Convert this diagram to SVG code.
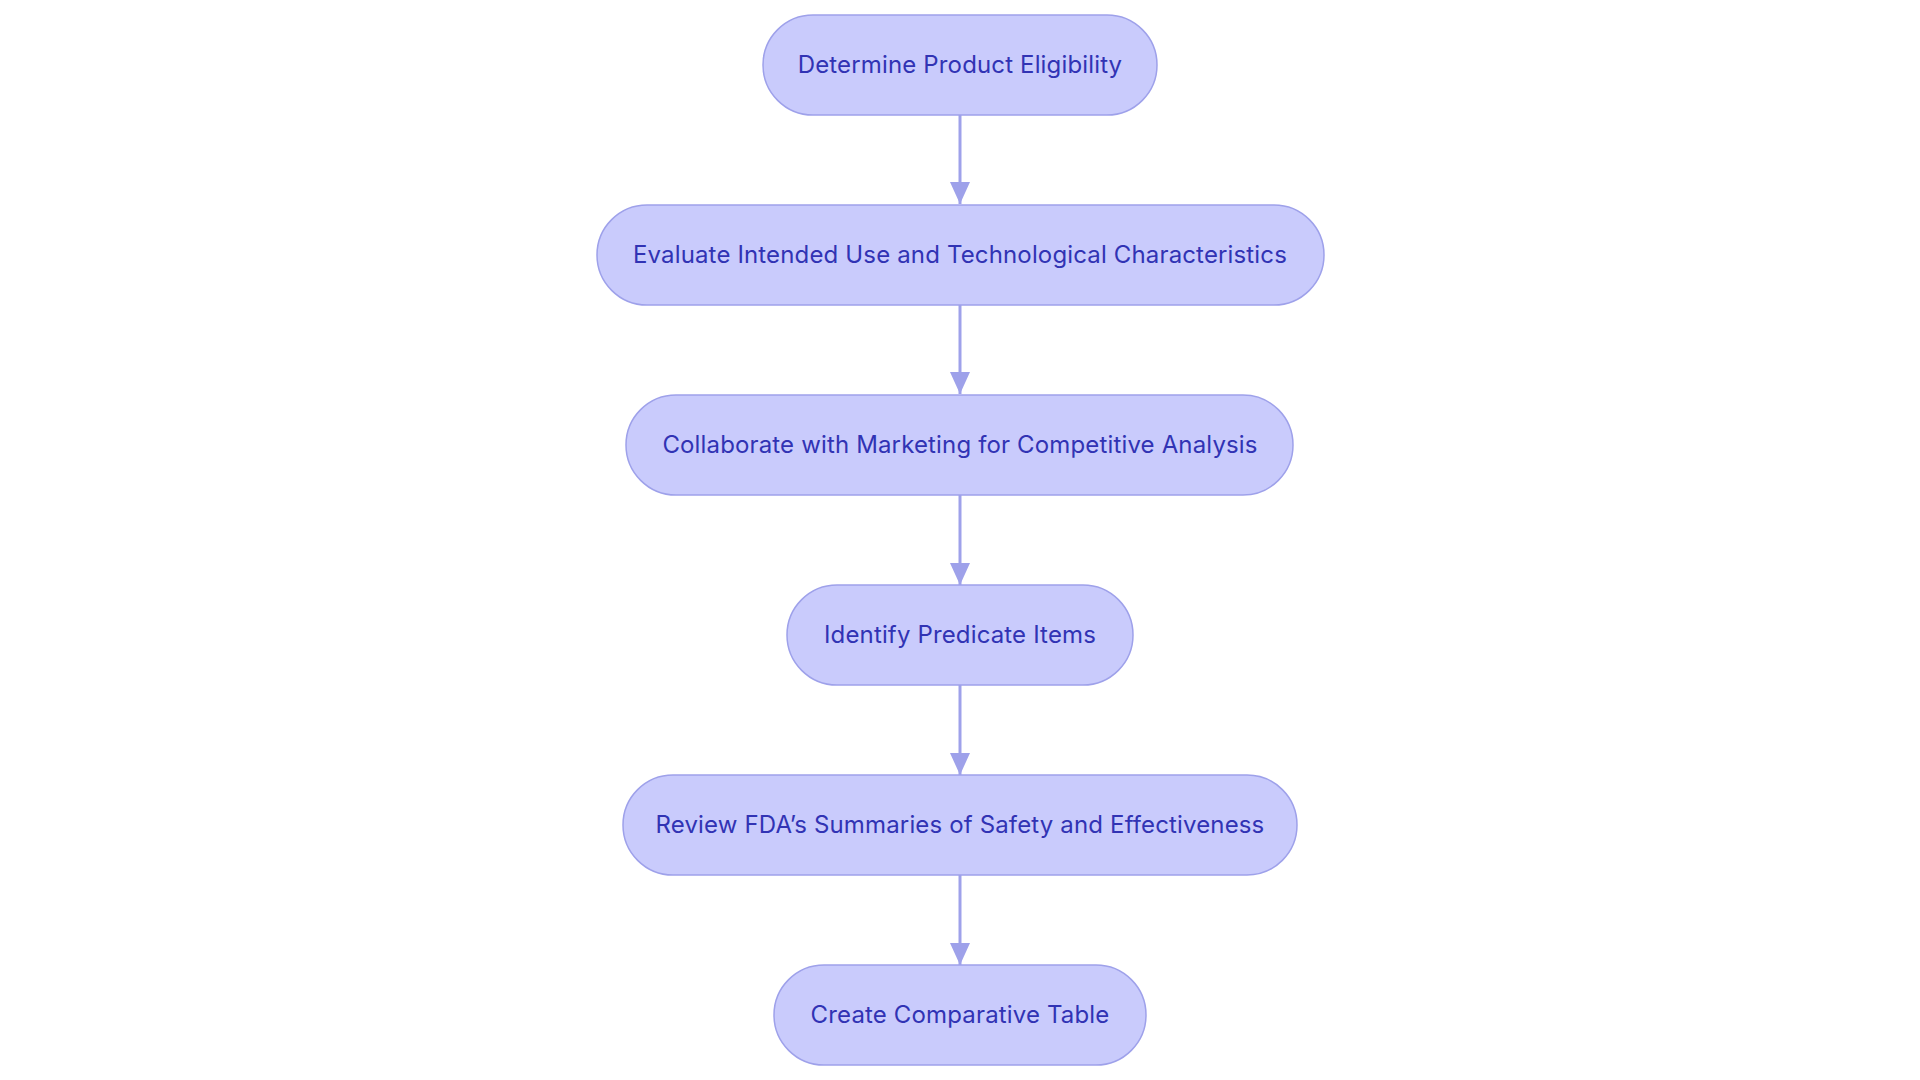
<svg xmlns="http://www.w3.org/2000/svg" width="1920" height="1080" viewBox="0 0 1920 1080">
<style>
.node rect{fill:#c9cbfc;stroke:#9ea1ea;stroke-width:1.5}
.node text{font-family:Inter,"Noto Sans",sans-serif;font-size:24px;font-weight:400;letter-spacing:0.15px;fill:#3133b4;text-anchor:middle;dominant-baseline:central}
.edge{stroke:#9ea1ea;stroke-width:3;fill:none}
</style>
<defs>
<marker id="ah" viewBox="0 0 22 20" refX="22" refY="10" markerWidth="22" markerHeight="20" markerUnits="userSpaceOnUse" orient="auto">
<path d="M0,0 L22,10 L0,20 Z" fill="#9ea1ea"/>
</marker>
</defs>
<rect width="1920" height="1080" fill="#ffffff"/>
<g id="connectors">
<line class="edge" x1="960" y1="115" x2="960" y2="204" marker-end="url(#ah)"/>
<line class="edge" x1="960" y1="305" x2="960" y2="394" marker-end="url(#ah)"/>
<line class="edge" x1="960" y1="495" x2="960" y2="585" marker-end="url(#ah)"/>
<line class="edge" x1="960" y1="685" x2="960" y2="775" marker-end="url(#ah)"/>
<line class="edge" x1="960" y1="875" x2="960" y2="965" marker-end="url(#ah)"/>
</g>
<g id="n1" class="node"><rect x="763" y="15" width="394" height="100" rx="50"/><text x="960" y="64">Determine Product Eligibility</text></g>
<g id="n2" class="node"><rect x="597" y="205" width="727" height="100" rx="50"/><text x="960" y="254">Evaluate Intended Use and Technological Characteristics</text></g>
<g id="n3" class="node"><rect x="626" y="395" width="667" height="100" rx="50"/><text x="960" y="444">Collaborate with Marketing for Competitive Analysis</text></g>
<g id="n4" class="node"><rect x="787" y="585" width="346" height="100" rx="50"/><text x="960" y="634">Identify Predicate Items</text></g>
<g id="n5" class="node"><rect x="623" y="775" width="674" height="100" rx="50"/><text x="960" y="824">Review FDA’s Summaries of Safety and Effectiveness</text></g>
<g id="n6" class="node"><rect x="774" y="965" width="372" height="100" rx="50"/><text x="960" y="1014">Create Comparative Table</text></g>
</svg>
